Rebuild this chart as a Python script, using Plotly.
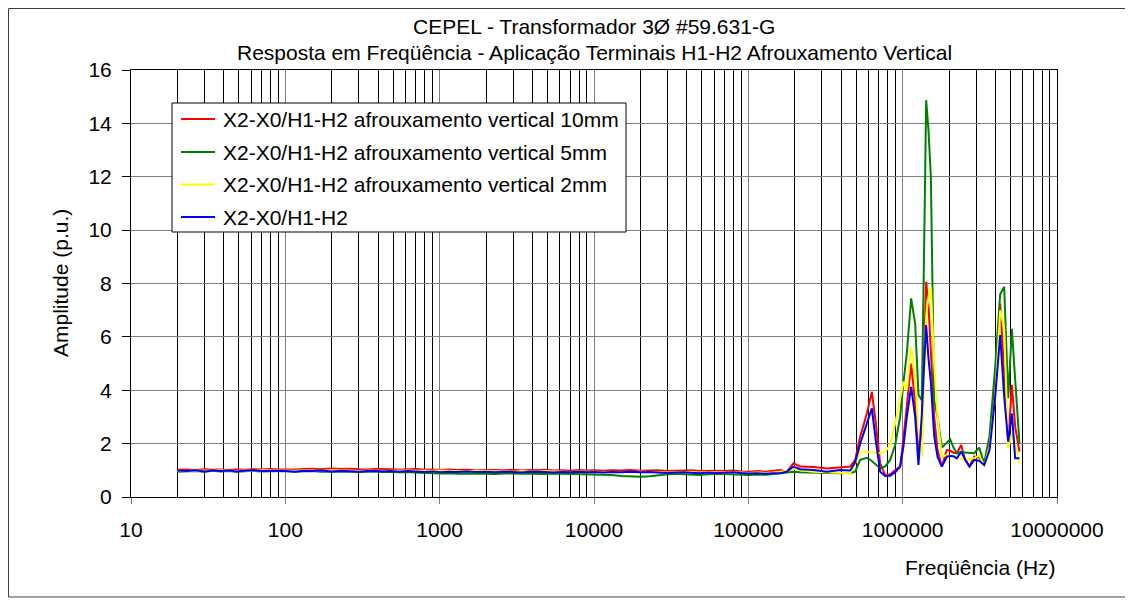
import plotly.graph_objects as go

# ---------------- data ----------------
freq_low = [20, 23, 26, 30, 34, 38, 43, 48, 55, 62, 70, 80, 90, 100, 115, 130, 150, 170, 200, 230,
            260, 300, 340, 380, 430, 480, 550, 620, 700, 800, 900, 1000, 1150, 1300, 1500, 1700,
            2000, 2300, 2600, 3000, 3400, 3800, 4300, 4800, 5500, 6200, 7000, 8000, 9000, 10000,
            11500, 13000, 15000, 17000, 20000, 23000, 26000, 30000, 34000, 38000, 43000, 48000,
            55000, 62000, 70000, 80000, 90000, 100000, 115000, 130000, 145000]

freq_high = [161000, 177600, 196200, 216700, 264400, 322500, 393400, 456700, 492200, 530500,
             586000, 631300, 670000, 714800, 770000, 830000, 894000, 963000, 1012000, 1064000,
             1135000, 1205000, 1266000, 1331000, 1378000, 1420000, 1470000, 1523000, 1600000,
             1682000, 1794000, 1933000, 2032000, 2135000, 2244000, 2394000, 2541000, 2711000,
             2906000, 3131000, 3375000, 3655000, 3977000, 4284000, 4548000, 4828000, 5100000,
             5358000, 5717000]

red_low = [1.02, 1.03, 1.01, 1.04, 1.02, 1.03, 1.01, 1.03, 1.02, 1.04, 1.03, 1.05, 1.03, 1.02, 1.03,
           1.05, 1.06, 1.04, 1.07, 1.05, 1.06, 1.04, 1.03, 1.05, 1.03, 1.04, 1.02, 1.03, 1.05, 1.02,
           1.03, 1.01, 1.03, 1.01, 1.02, 1.00, 1.02, 1.01, 1.00, 1.02, 0.99, 1.01, 1.00, 1.02, 0.99,
           1.00, 0.98, 1.01, 0.99, 1.00, 0.98, 1.00, 0.99, 1.01, 0.98, 0.99, 1.00, 0.97, 0.99, 0.98,
           1.00, 0.97, 0.99, 0.98, 0.97, 0.99, 0.96, 0.95, 0.97, 0.95, 0.98]
red_high = [1.01, 0.95, 1.26, 1.14, 1.12, 1.07, 1.10, 1.14, 1.39, 2.26, 3.13, 3.94, 2.76, 1.26, 0.82,
            0.85, 1.01, 1.14, 2.20, 3.45, 5.00, 3.50, 1.64, 2.50, 5.50, 8.06, 7.20, 5.50, 3.00, 1.76,
            1.14, 1.76, 1.74, 1.66, 1.64, 1.95, 1.40, 1.14, 1.51, 1.48, 1.26, 2.00, 4.38, 7.25, 4.40,
            2.00, 4.20, 2.63, 1.70]

green_low = [0.95, 0.96, 0.97, 0.95, 0.98, 0.96, 0.97, 0.95, 0.97, 0.98, 0.96, 0.97, 0.96, 0.97, 0.95,
             0.96, 0.97, 0.95, 0.96, 0.95, 0.96, 0.94, 0.95, 0.96, 0.94, 0.95, 0.93, 0.94, 0.92, 0.90,
             0.89, 0.88, 0.89, 0.87, 0.88, 0.87, 0.88, 0.86, 0.88, 0.87, 0.86, 0.88, 0.87, 0.86, 0.88,
             0.87, 0.86, 0.87, 0.86, 0.85, 0.84, 0.82, 0.79, 0.77, 0.76, 0.78, 0.82, 0.85, 0.87, 0.86,
             0.84, 0.82, 0.85, 0.87, 0.86, 0.85, 0.84, 0.82, 0.84, 0.83, 0.86]
green_high = [0.89, 0.92, 0.95, 0.93, 0.91, 0.89, 0.89, 0.90, 0.95, 1.39, 1.47, 1.35, 1.20, 1.07, 1.15,
              1.39, 1.95, 3.00, 4.30, 5.38, 7.44, 6.50, 3.82, 3.63, 9.40, 14.87, 13.75, 12.00, 3.63,
              3.00, 1.85, 2.05, 2.16, 1.85, 1.64, 1.68, 1.66, 1.64, 1.64, 1.85, 1.26, 2.30, 4.88, 7.60,
              7.88, 3.70, 6.30, 4.40, 2.00]

yellow_low = [0.98, 0.97, 0.99, 0.97, 0.98, 1.00, 0.98, 0.97, 0.99, 0.98, 1.00, 0.99, 0.98, 0.99, 0.98,
              1.00, 0.99, 0.98, 1.00, 0.98, 0.99, 0.97, 0.98, 0.99, 0.97, 0.98, 0.97, 0.99, 0.98, 0.97,
              0.98, 0.99, 0.97, 0.98, 0.96, 0.98, 0.97, 0.96, 0.97, 0.95, 0.97, 0.96, 0.95, 0.97, 0.95,
              0.96, 0.94, 0.96, 0.95, 0.94, 0.95, 0.93, 0.94, 0.93, 0.95, 0.93, 0.94, 0.92, 0.94, 0.93,
              0.95, 0.92, 0.94, 0.93, 0.92, 0.94, 0.91, 0.90, 0.92, 0.90, 0.92]
yellow_high = [0.95, 0.97, 1.07, 1.00, 0.95, 0.93, 0.92, 0.89, 1.26, 1.70, 1.70, 1.68, 1.65, 1.64, 1.70,
               1.95, 2.76, 3.70, 4.32, 4.00, 5.62, 4.44, 2.50, 1.51, 4.00, 6.80, 7.50, 7.88, 5.00, 3.00,
               1.51, 1.57, 1.54, 1.51, 1.51, 1.45, 1.38, 1.42, 1.45, 1.57, 1.16, 1.90, 3.76, 7.00, 6.32,
               1.82, 2.38, 2.00, 1.26]

blue_low = [0.99, 0.97, 1.00, 0.96, 0.99, 0.97, 0.99, 0.96, 0.98, 1.00, 0.97, 0.99, 0.98, 0.97, 0.95,
            0.98, 0.97, 0.99, 0.96, 0.98, 0.97, 0.95, 0.97, 0.98, 0.96, 0.97, 0.95, 0.97, 0.96, 0.94,
            0.96, 0.93, 0.95, 0.94, 0.96, 0.94, 0.95, 0.93, 0.95, 0.94, 0.92, 0.95, 0.93, 0.94, 0.92,
            0.94, 0.93, 0.95, 0.93, 0.94, 0.92, 0.94, 0.93, 0.95, 0.93, 0.94, 0.92, 0.90, 0.92, 0.93,
            0.91, 0.89, 0.92, 0.90, 0.91, 0.93, 0.90, 0.88, 0.89, 0.87, 0.89]
blue_high = [0.89, 0.95, 1.14, 1.04, 1.01, 0.95, 1.01, 0.99, 1.30, 2.00, 2.76, 3.32, 2.10, 0.95, 0.79,
             0.80, 0.93, 1.14, 1.90, 3.00, 4.13, 3.00, 1.20, 3.10, 5.00, 6.44, 5.20, 4.30, 2.30, 1.50,
             1.14, 1.51, 1.54, 1.53, 1.45, 1.70, 1.40, 1.14, 1.39, 1.36, 1.20, 1.76, 3.76, 6.07, 3.76,
             2.07, 3.13, 1.45, 1.45]

series_names = ["X2-X0/H1-H2 afrouxamento vertical 10mm",
                "X2-X0/H1-H2 afrouxamento vertical 5mm",
                "X2-X0/H1-H2 afrouxamento vertical 2mm",
                "X2-X0/H1-H2"]
series_colors = ["#FF0000", "#008000", "#FFFF00", "#0000FF"]

x_tick_vals = [10, 100, 1000, 10000, 100000, 1000000, 10000000]
x_tick_text = ["10", "100", "1000", "10000", "100000", "1000000", "10000000"]
y_tick_vals = [0, 2, 4, 6, 8, 10, 12, 14, 16]

title_line1 = "CEPEL - Transformador 3Ø #59.631-G"
title_line2 = "Resposta em Freqüência - Aplicação Terminais H1-H2 Afrouxamento Vertical"
x_title = "Freqüência (Hz)"
y_title = "Amplitude (p.u.)"

# ---------------- figure ----------------
FONT = "Arial, 'Liberation Sans', sans-serif"
FS = 21
freq = freq_low + freq_high
values = [red_low + red_high, green_low + green_high, yellow_low + yellow_high, blue_low + blue_high]

fig = go.Figure()
for name, col, vals in zip(series_names, series_colors, values):
    fig.add_trace(go.Scatter(x=freq, y=vals, mode="lines", name=name,
                             line=dict(color=col, width=2), showlegend=False))

minor_vals = [m * 10 ** e for e in range(1, 7) for m in range(2, 10)]

# page has an 8px body margin; figure is sized to fit the 1133x600 window
PAGE_OFF = 8
W, H = 1133 - PAGE_OFF, 600 - PAGE_OFF
# plot area in reference (window) pixels
PL, PR, PT, PB = 131, 1057, 70, 497
pw, ph = PR - PL, PB - PT

def px_x(px):
    return (px - PL) / pw

def px_y(py):
    return (PB - py) / ph

annotations = [
    dict(text=title_line1, x=0.5, y=px_y(26), xref="paper", yref="paper",
         showarrow=False, xanchor="center", yanchor="middle",
         font=dict(family=FONT, size=FS, color="black")),
    dict(text=title_line2, x=0.5, y=px_y(53), xref="paper", yref="paper",
         showarrow=False, xanchor="center", yanchor="middle",
         font=dict(family=FONT, size=FS, color="black")),
    dict(text=y_title, x=px_x(60), y=px_y(283), xref="paper", yref="paper",
         showarrow=False, xanchor="center", yanchor="middle", textangle=-90,
         font=dict(family=FONT, size=FS, color="black")),
    dict(text=x_title, x=px_x(980), y=px_y(567), xref="paper", yref="paper",
         showarrow=False, xanchor="center", yanchor="middle",
         font=dict(family=FONT, size=FS, color="black")),
]

shapes = [
    dict(type="rect", xref="paper", yref="paper",
         x0=px_x(PAGE_OFF + 0.5), x1=px_x(1128), y0=px_y(597), y1=px_y(PAGE_OFF + 0.5),
         line=dict(color="#404040", width=1), fillcolor="rgba(0,0,0,0)", layer="below"),
    # legend box
    dict(type="rect", xref="paper", yref="paper",
         x0=px_x(172), x1=px_x(626), y0=px_y(232), y1=px_y(103),
         line=dict(color="black", width=1), fillcolor="white", layer="above"),
]

legend_rows = [119, 152, 184.5, 217]
for name, col, ry in zip(series_names, series_colors, legend_rows):
    shapes.append(dict(type="line", xref="paper", yref="paper",
                       x0=px_x(181), x1=px_x(215), y0=px_y(ry), y1=px_y(ry),
                       line=dict(color=col, width=2), layer="above"))
    annotations.append(dict(text=name, x=px_x(221), y=px_y(ry), xref="paper", yref="paper",
                            showarrow=False, xanchor="left", yanchor="middle",
                            font=dict(family=FONT, size=FS, color="black")))

fig.update_layout(
    width=W, height=H,
    margin=dict(l=PL - PAGE_OFF, r=W - (PR - PAGE_OFF), t=PT - PAGE_OFF, b=H - (PB - PAGE_OFF)),
    paper_bgcolor="white", plot_bgcolor="white",
    font=dict(family=FONT, size=FS, color="black"),
    showlegend=False,
    xaxis=dict(type="log", range=[1, 7], tickvals=x_tick_vals, ticktext=x_tick_text,
               showgrid=True, gridcolor="#7f7f7f", gridwidth=1,
               showline=True, linecolor="black", linewidth=1, mirror=True,
               ticks="outside", ticklen=6, tickcolor="#7f7f7f",
               ticklabelstandoff=8,
               tickfont=dict(family=FONT, size=FS, color="black"),
               minor=dict(tickvals=minor_vals, showgrid=True, gridcolor="black",
                          gridwidth=1, ticks=""),
               zeroline=False),
    yaxis=dict(range=[0, 16], tickvals=y_tick_vals,
               showgrid=True, gridcolor="#7f7f7f", gridwidth=1,
               showline=True, linecolor="black", linewidth=1, mirror=True,
               ticks="outside", ticklen=8, tickcolor="black",
               ticklabelstandoff=6,
               tickfont=dict(family=FONT, size=FS, color="black"),
               zeroline=False),
    annotations=annotations,
    shapes=shapes,
)

fig.write_html("out.html")
